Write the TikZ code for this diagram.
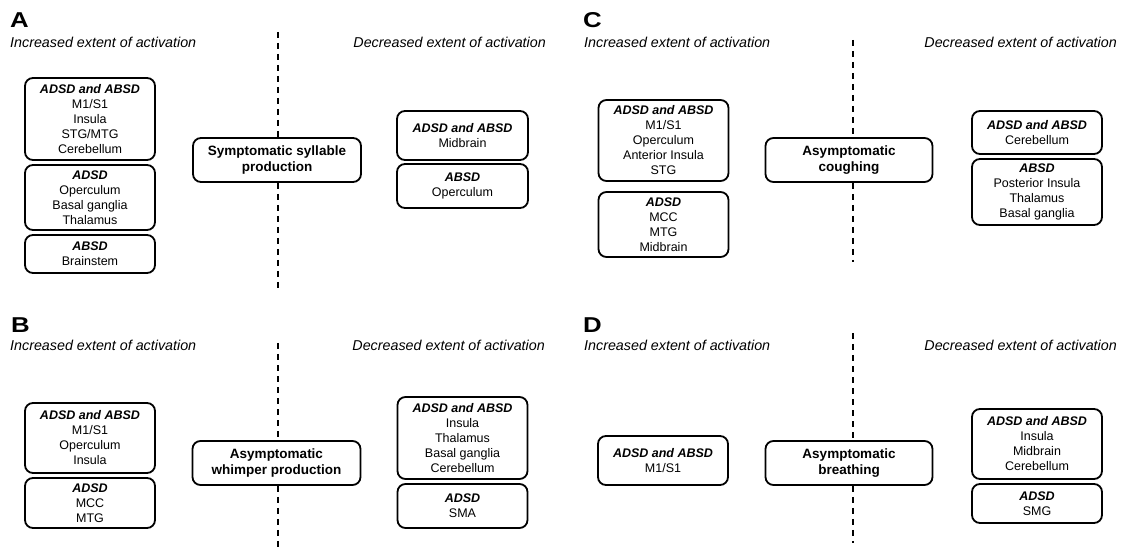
\documentclass[tikz,border=0pt]{standalone}
\usepackage{fontspec}
\setmainfont{Liberation Sans}
\usepackage{tikz}

\newcommand{\grp}[1]{\textbf{\textit{#1}}}

\begin{document}
\begin{tikzpicture}[x=1pt, y=-1pt, line cap=round, line join=round,
    regbox/.style={draw, line width=1.8pt, rounded corners=8pt, align=center, inner sep=0pt,
      minimum width=130pt, font=\fontsize{12.5}{15}\selectfont},
    taskbox/.style={draw, line width=1.8pt, rounded corners=8pt, align=center, inner sep=0pt,
      minimum width=168pt, minimum height=44pt, font=\fontsize{13.5}{16.5}\selectfont\bfseries},
    hdr/.style={inner sep=0pt, font=\fontsize{14.3}{16}\selectfont\itshape},
    panel/.style={inner sep=0pt, anchor=base west, xscale=1.2, font=\fontsize{21.5}{21.5}\selectfont\bfseries},
    divider/.style={line width=1.6pt, dash pattern=on 6pt off 5pt, line cap=butt}]
    \useasboundingbox (0,0) rectangle (1122,553);

    % Panel A
    \node[panel] (Alet) at (10,28) {A};
    \node[hdr, anchor=base west] (Ainc) at (10,48) {Increased extent of activation};
    \node[hdr, anchor=base east] (Adec) at (546,48) {Decreased extent of activation};
    \node[taskbox] (Atask) at (277,160) {Symptomatic syllable\\production};
    \node[regbox, minimum height=82pt] (A1) at (90,119) {\grp{ADSD and ABSD}\\M1/S1\\Insula\\STG/MTG\\Cerebellum};
    \node[regbox, minimum height=65pt] (A2) at (90,197.5) {\grp{ADSD}\\Operculum\\Basal ganglia\\Thalamus};
    \node[regbox, minimum height=38pt] (A3) at (90,254) {\grp{ABSD}\\Brainstem};
    \node[regbox, minimum width=131pt, minimum height=49pt] (A4) at (462.5,135.5) {\grp{ADSD and ABSD}\\Midbrain};
    \node[regbox, minimum width=131pt, minimum height=44pt] (A5) at (462.5,186) {\grp{ABSD}\\Operculum};
    \coordinate (Atop) at (278,32);
    \coordinate (Abot) at (278,288);
    \draw[divider] (Atop) -- (Atop |- Atask.north);
    \draw[divider] (Abot |- Atask.south) -- (Abot);

    % Panel B
    \node[panel] (Blet) at (11,333) {B};
    \node[hdr, anchor=base west] (Binc) at (10,350.5) {Increased extent of activation};
    \node[hdr, anchor=base east] (Bdec) at (545,350.5) {Decreased extent of activation};
    \node[taskbox] (Btask) at (276.5,463) {Asymptomatic\\whimper production};
    \node[regbox, minimum height=70pt] (B1) at (90,438) {\grp{ADSD and ABSD}\\M1/S1\\Operculum\\Insula};
    \node[regbox, minimum height=50pt] (B2) at (90,503) {\grp{ADSD}\\MCC\\MTG};
    \node[regbox, minimum height=82pt] (B3) at (462.5,438) {\grp{ADSD and ABSD}\\Insula\\Thalamus\\Basal ganglia\\Cerebellum};
    \node[regbox, minimum height=44pt] (B4) at (462.5,506) {\grp{ADSD}\\SMA};
    \coordinate (Btop) at (278,343);
    \coordinate (Bbot) at (278,547);
    \draw[divider] (Btop) -- (Btop |- Btask.north);
    \draw[divider] (Bbot |- Btask.south) -- (Bbot);

    % Panel C
    \node[panel] (Clet) at (583,28) {C};
    \node[hdr, anchor=base west] (Cinc) at (584,47.5) {Increased extent of activation};
    \node[hdr, anchor=base east] (Cdec) at (1117,47.5) {Decreased extent of activation};
    \node[taskbox, minimum width=167pt] (Ctask) at (849,160) {Asymptomatic\\coughing};
    \node[regbox, minimum height=81pt] (C1) at (663.5,140.5) {\grp{ADSD and ABSD}\\M1/S1\\Operculum\\Anterior Insula\\STG};
    \node[regbox, minimum height=65pt] (C2) at (663.5,224.5) {\grp{ADSD}\\MCC\\MTG\\Midbrain};
    \node[regbox, minimum height=43pt] (C3) at (1037,132.5) {\grp{ADSD and ABSD}\\Cerebellum};
    \node[regbox, minimum height=66pt] (C4) at (1037,192) {\grp{ABSD}\\Posterior Insula\\Thalamus\\Basal ganglia};
    \coordinate (Ctop) at (853,40);
    \coordinate (Cbot) at (853,262);
    \draw[divider] (Ctop) -- (Ctop |- Ctask.north);
    \draw[divider] (Cbot |- Ctask.south) -- (Cbot);

    % Panel D
    \node[panel] (Dlet) at (583,333) {D};
    \node[hdr, anchor=base west] (Dinc) at (584,350.5) {Increased extent of activation};
    \node[hdr, anchor=base east] (Ddec) at (1117,350.5) {Decreased extent of activation};
    \node[taskbox, minimum width=167pt] (Dtask) at (849,463) {Asymptomatic\\breathing};
    \node[regbox, minimum height=49pt] (D1) at (663,460.5) {\grp{ADSD and ABSD}\\M1/S1};
    \node[regbox, minimum height=70pt] (D2) at (1037,444) {\grp{ADSD and ABSD}\\Insula\\Midbrain\\Cerebellum};
    \node[regbox, minimum height=39pt] (D3) at (1037,503.5) {\grp{ADSD}\\SMG};
    \coordinate (Dtop) at (853,333);
    \coordinate (Dbot) at (853,543);
    \draw[divider] (Dtop) -- (Dtop |- Dtask.north);
    \draw[divider] (Dbot |- Dtask.south) -- (Dbot);
  \end{tikzpicture}
\end{document}
